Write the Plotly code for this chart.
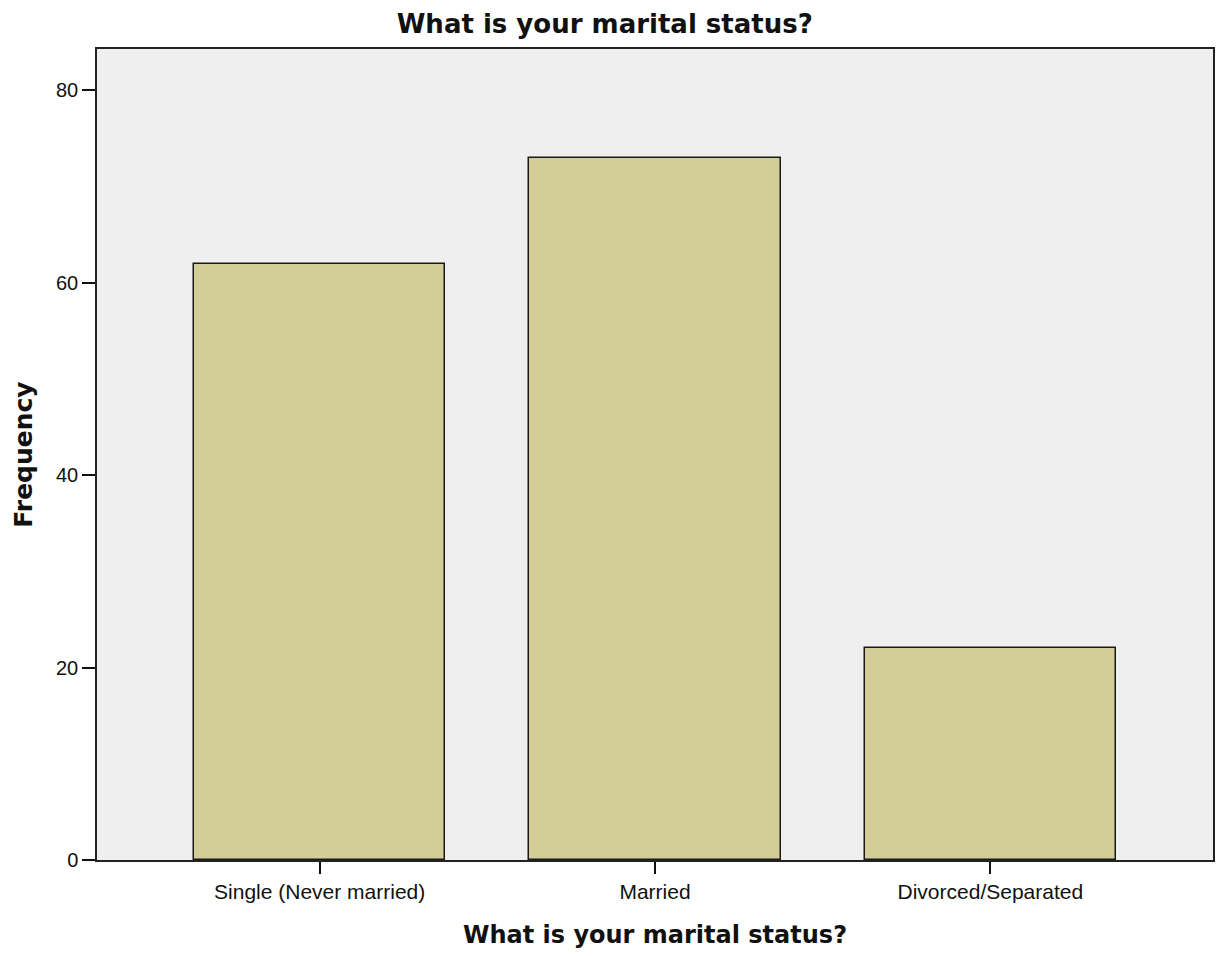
import plotly.graph_objects as go

categories = ["Single (Never married)", "Married", "Divorced/Separated"]
frequency = [62, 73, 22]
y_ticks = [0, 20, 40, 60, 80]

BOLD = "DejaVu Sans, Arial, sans-serif"

fig = go.Figure(go.Bar(
    x=list(range(len(categories))),
    y=frequency,
    width=0.75,
    marker=dict(color="#D3CD97", line=dict(color="#1a1a1a", width=1.5)),
))

fig.update_layout(
    width=1208, height=948,
    margin=dict(l=89, r=1, t=41, b=96),
    paper_bgcolor="white",
    plot_bgcolor="#EFEFEF",
    font=dict(family="Arial, Liberation Sans, sans-serif", color="#111"),
    title=dict(text="<b>What is your marital status?</b>", x=0.494, xref="container",
               xanchor="center", y=0.983, yanchor="middle",
               font=dict(size=26, color="#111", family=BOLD)),
    showlegend=False,
    bargap=0,
)
fig.update_xaxes(
    range=[-0.664, 2.664],
    tickmode="array", tickvals=list(range(len(categories))), ticktext=categories,
    ticks="outside", ticklen=12, tickcolor="#111", tickwidth=1.5,
    tickfont=dict(size=21),
    showline=True, linecolor="#222", linewidth=1.5, mirror=True,
    showgrid=False, zeroline=False,
    title=dict(text="<b>What is your marital status?</b>", font=dict(size=24, family=BOLD), standoff=24),
)
fig.update_yaxes(
    range=[0, 84.3],
    tickmode="array", tickvals=y_ticks,
    ticks="outside", ticklen=13, tickcolor="#111", tickwidth=1.5,
    tickfont=dict(size=20),
    showline=True, linecolor="#222", linewidth=1.5, mirror=True,
    showgrid=False, zeroline=False,
    title=dict(text="<b>Frequency</b>", font=dict(size=25, family=BOLD), standoff=16),
)

fig.write_html("out.html")
